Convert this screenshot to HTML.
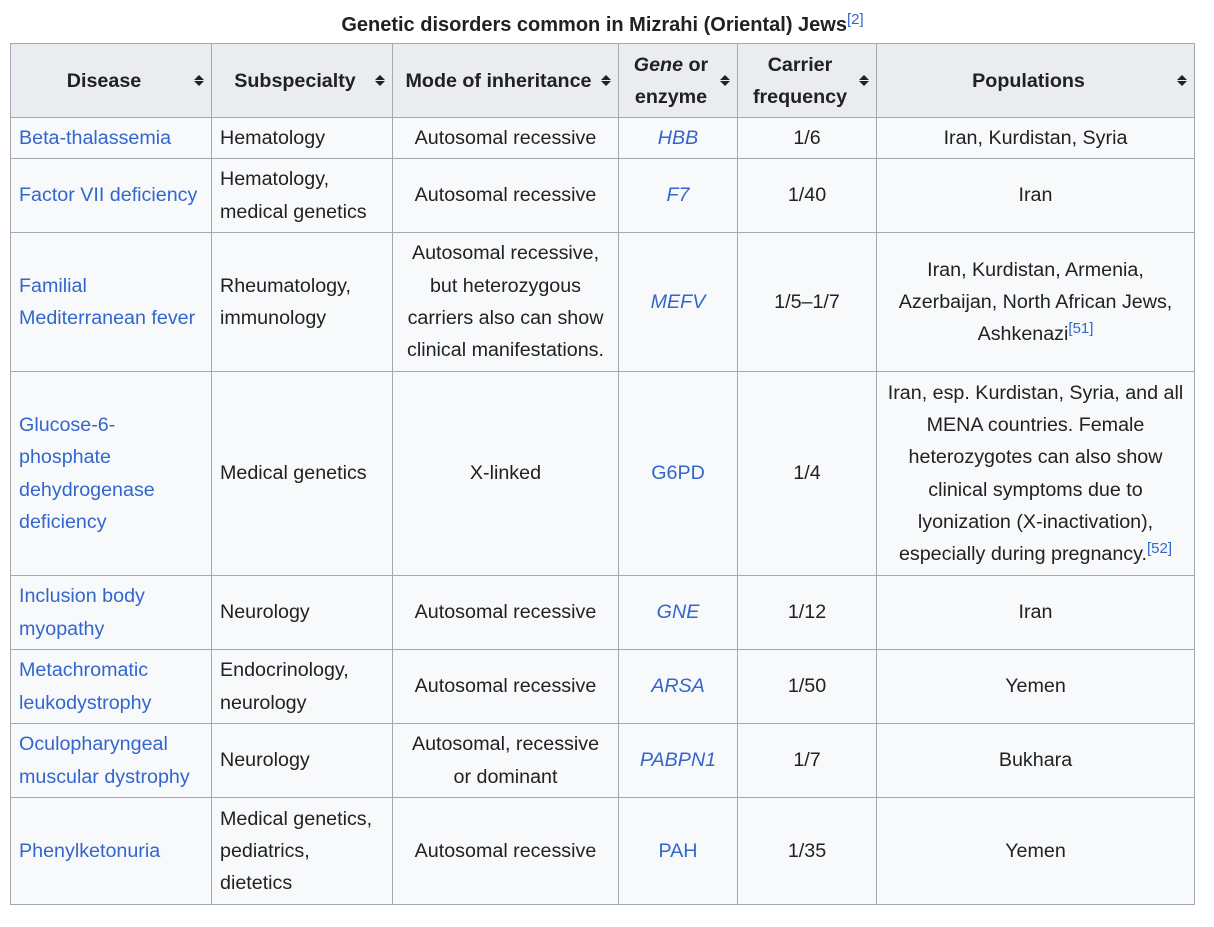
<!DOCTYPE html>
<html><head><meta charset="utf-8"><style>
body{margin:0;background:#fff;font-family:"Liberation Sans",Arial,sans-serif;color:#202122;}
.cap{position:absolute;left:10px;width:1185px;top:12px;text-align:center;font-weight:bold;font-size:20px;line-height:26px}
sup{font-size:15px;font-weight:normal;color:#3366cc;vertical-align:7px;line-height:0}
table{position:absolute;left:10px;top:43px;border-collapse:collapse;table-layout:fixed;font-size:19.7px;line-height:32.3px;}
td,th{border:1px solid #a2a9b1;background:#f8f9fa;padding:0 8px;text-align:center;vertical-align:middle;}
th{background:#eaecf0;font-weight:bold;position:relative;padding-right:22px;line-height:32px}
td.l{text-align:left}
.a{color:#3366cc;text-decoration:none}
i.a{font-style:italic}
.s{position:absolute;right:7px;top:50%;margin-top:-6px;width:10px;height:12px}
.s:before,.s:after{content:"";position:absolute;left:0;border-left:5px solid transparent;border-right:5px solid transparent}
.s:before{top:0;border-bottom:5px solid #202122}
.s:after{top:6px;border-top:5px solid #202122}
</style></head><body>
<div class="cap">Genetic disorders common in Mizrahi (Oriental) Jews<sup>[2]</sup></div>
<table>
<colgroup><col style="width:201px"><col style="width:181px"><col style="width:226px"><col style="width:119px"><col style="width:139px"><col style="width:318px"></colgroup>
<tr style="height:74px"><th>Disease<span class="s"></span></th><th>Subspecialty<span class="s"></span></th><th>Mode of inheritance<span class="s"></span></th><th><i>Gene</i> or enzyme<span class="s"></span></th><th>Carrier frequency<span class="s"></span></th><th>Populations<span class="s"></span></th></tr>
<tr style="height:41px"><td class="l"><span class="a">Beta-thalassemia</span></td><td class="l">Hematology</td><td>Autosomal recessive</td><td><i class="a">HBB</i></td><td>1/6</td><td>Iran, Kurdistan, Syria</td></tr>
<tr style="height:74px"><td class="l"><span class="a">Factor VII deficiency</span></td><td class="l">Hematology, medical genetics</td><td>Autosomal recessive</td><td><i class="a">F7</i></td><td>1/40</td><td>Iran</td></tr>
<tr style="height:139px"><td class="l"><span class="a">Familial Mediterranean fever</span></td><td class="l">Rheumatology, immunology</td><td>Autosomal recessive, but heterozygous carriers also can show clinical manifestations.</td><td><i class="a">MEFV</i></td><td>1/5–1/7</td><td>Iran, Kurdistan, Armenia, Azerbaijan, North African Jews, Ashkenazi<sup>[51]</sup></td></tr>
<tr style="height:204px"><td class="l"><span class="a">Glucose-6-phosphate dehydrogenase deficiency</span></td><td class="l">Medical genetics</td><td>X-linked</td><td><span class="a">G6PD</span></td><td>1/4</td><td>Iran, esp. Kurdistan, Syria, and all MENA countries. Female heterozygotes can also show clinical symptoms due to lyonization (X-inactivation), especially during pregnancy.<sup>[52]</sup></td></tr>
<tr style="height:74px"><td class="l"><span class="a">Inclusion body myopathy</span></td><td class="l">Neurology</td><td>Autosomal recessive</td><td><i class="a">GNE</i></td><td>1/12</td><td>Iran</td></tr>
<tr style="height:74px"><td class="l"><span class="a">Metachromatic leukodystrophy</span></td><td class="l">Endocrinology, neurology</td><td>Autosomal recessive</td><td><i class="a">ARSA</i></td><td>1/50</td><td>Yemen</td></tr>
<tr style="height:74px"><td class="l"><span class="a">Oculopharyngeal muscular dystrophy</span></td><td class="l">Neurology</td><td>Autosomal, recessive or dominant</td><td><i class="a">PABPN1</i></td><td>1/7</td><td>Bukhara</td></tr>
<tr style="height:107px"><td class="l"><span class="a">Phenylketonuria</span></td><td class="l">Medical genetics, pediatrics, dietetics</td><td>Autosomal recessive</td><td><span class="a">PAH</span></td><td>1/35</td><td>Yemen</td></tr>
</table>
</body></html>
